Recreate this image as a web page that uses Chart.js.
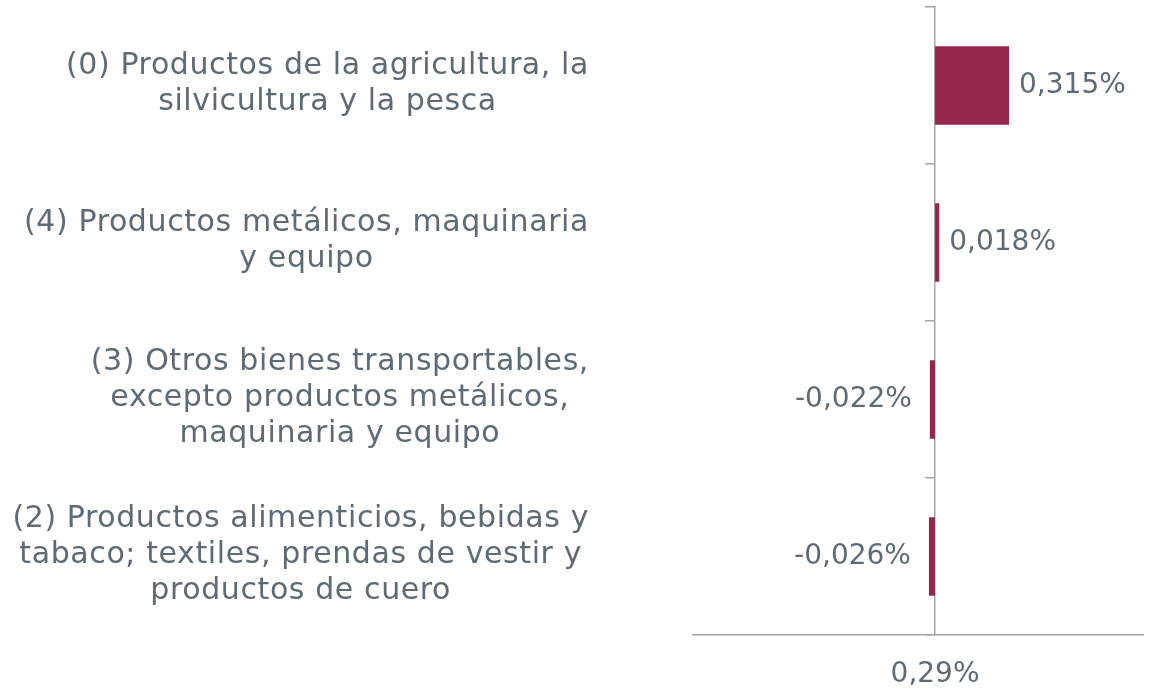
<!DOCTYPE html>
<html>
<head>
<meta charset="utf-8">
<script src="https://cdn.jsdelivr.net/npm/chart.js@4"></script>
<style>
  body { margin: 0; background: #fff; }
  #wrap { width: 1158px; height: 694px; }
</style>
</head>
<body>
<div id="wrap"><canvas id="myChart"></canvas></div>
<script>
// data
const categories = [
  ['(0) Productos de la agricultura, la', 'silvicultura y la pesca'],
  ['(4) Productos metálicos, maquinaria', 'y equipo'],
  ['(3) Otros bienes transportables,', 'excepto productos metálicos,', 'maquinaria y equipo'],
  ['(2) Productos alimenticios, bebidas y', 'tabaco; textiles, prendas de vestir y', 'productos de cuero']
];
const values = [0.315, 0.018, -0.022, -0.026];
const xTickLabels = ['0,29%'];

const textColor = '#5e6a75';
const axisColor = '#a6a6a6';
const barColor = '#95274a';
const fontFamily = '"DejaVu Sans", sans-serif';
const fontSize = 28;

function fmt(v) {
  return v.toFixed(3).replace('.', ',') + '%';
}

// value labels at bar ends
const valueLabels = {
  id: 'valueLabels',
  afterDatasetsDraw(chart) {
    const ctx = chart.ctx;
    const meta = chart.getDatasetMeta(0);
    ctx.save();
    ctx.font = fontSize + 'px ' + fontFamily;
    ctx.fillStyle = textColor;
    ctx.textBaseline = 'middle';
    meta.data.forEach((bar, i) => {
      const v = values[i];
      if (v >= 0) {
        ctx.textAlign = 'left';
        ctx.fillText(fmt(v), bar.x + 10, bar.y);
      } else {
        ctx.textAlign = 'right';
        ctx.fillText(fmt(v), bar.x - 18, bar.y);
      }
    });
    ctx.restore();
  }
};

// category labels: block right aligned, lines centred inside block
const categoryLabels = {
  id: 'categoryLabels',
  afterDraw(chart) {
    const ctx = chart.ctx;
    const yScale = chart.scales.y;
    const rightEdge = 589;
    const lineH = 36;
    ctx.save();
    ctx.font = '30px ' + fontFamily;
    ctx.letterSpacing = '0.6px';
    ctx.fillStyle = textColor;
    ctx.textBaseline = 'middle';
    ctx.textAlign = 'center';
    categories.forEach((lines, i) => {
      const cy = yScale.getPixelForValue(i) - 1;
      let w = 0;
      lines.forEach(l => { w = Math.max(w, ctx.measureText(l).width); });
      const cx = rightEdge - w / 2;
      const top = cy - (lines.length - 1) * lineH / 2;
      lines.forEach((l, j) => {
        ctx.fillText(l, cx, top + j * lineH);
      });
    });
    ctx.restore();
  }
};

var ctx = document.getElementById('myChart').getContext('2d');
var chart = new Chart(ctx, {
  type: 'bar',
  data: {
    labels: categories.map(c => c.join(' ')),
    datasets: [{
      data: values,
      backgroundColor: barColor,
      categoryPercentage: 1,
      barPercentage: 0.5
    }]
  },
  options: {
    indexAxis: 'y',
    responsive: true,
    maintainAspectRatio: false,
    animation: false,
    layout: { padding: { left: 693, right: 15, top: 7, bottom: 0 } },
    plugins: {
      legend: { display: false },
      tooltip: { enabled: false }
    },
    scales: {
      x: {
        min: -1.03,
        max: 0.885,
        afterBuildTicks: (scale) => { scale.ticks = [{ value: 0 }]; },
        afterFit: (scale) => { scale.height = 59; },
        ticks: {
          callback: (v, i) => xTickLabels[i],
          color: textColor,
          font: { family: fontFamily, size: fontSize },
          padding: 23,
          maxRotation: 0
        },
        grid: { display: false, drawTicks: false },
        border: { display: true, color: axisColor, width: 1.5 }
      },
      y: {
        position: { x: 0 },
        ticks: { display: false },
        grid: { drawOnChartArea: false, color: axisColor, tickLength: 9, lineWidth: 1.5 },
        border: { display: true, color: axisColor, width: 1.5 }
      }
    }
  },
  plugins: [valueLabels, categoryLabels]
});
</script>
</body>
</html>
